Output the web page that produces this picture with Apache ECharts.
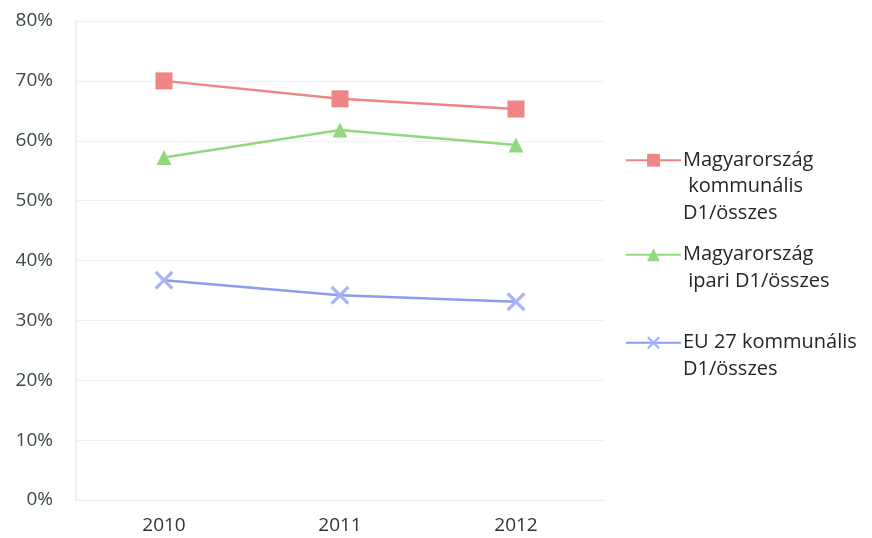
<!DOCTYPE html>
<html><head><meta charset="utf-8">
<script src="https://cdn.jsdelivr.net/npm/echarts@6/dist/echarts.min.js"></script>
<style>html,body{margin:0;padding:0;background:#fff}#c{width:872px;height:538px}</style>
</head><body><div id="c"></div>
<script>
const categories = ['2010', '2011', '2012'];
const huKommunalis = [70.0, 67.0, 65.3];
const huIpari = [57.2, 61.8, 59.3];
const eu27Kommunalis = [36.7, 34.2, 33.1];
const yTicks = [0, 10, 20, 30, 40, 50, 60, 70, 80];
const names = ['Magyarország kommunális D1/összes', 'Magyarország ipari D1/összes', 'EU 27 kommunális D1/összes'];
const legendLabels = {
  [names[0]]: '\n\nMagyarország\n kommunális\nD1/összes',
  [names[1]]: '\nMagyarország\n ipari D1/összes',
  [names[2]]: '\nEU 27 kommunális\nD1/összes'
};
const colors = ['#f08585', '#92d87f', '#8c9cee'];
const crossPath = 'path://M0,1.2 L1.2,0 L10,8.8 L8.8,10 Z M8.8,0 L10,1.2 L1.2,10 L0,8.8 Z';

const chart = echarts.init(document.getElementById('c'));
const font = 'Open Sans, Liberation Sans, sans-serif';
function legendFor(i, top) {
  return {
    data: [names[i]], left: 625, top: top, padding: 0,
    itemWidth: 55, itemHeight: 16, itemGap: 0,
    formatter: n => legendLabels[n],
    textStyle: { fontFamily: font, fontSize: 20, color: '#262626', lineHeight: 26.5, padding: [0, 0, 0, -3] }
  };
}
chart.setOption({
  animation: false,
  color: colors,
  grid: { left: 76, right: 268, top: 21, bottom: 38 },
  legend: [legendFor(0, 94), legendFor(1, 215), legendFor(2, 303)],
  xAxis: {
    type: 'category', data: categories, boundaryGap: true,
    axisLine: { show: true, lineStyle: { color: '#ececec', width: 1 } },
    axisTick: { show: false },
    axisLabel: { fontFamily: font, fontSize: 19, color: '#333', margin: 16 }
  },
  yAxis: {
    type: 'value', min: 0, max: 80, interval: 10,
    axisLine: { show: true, lineStyle: { color: '#f0f0f0', width: 2 } },
    axisTick: { show: false },
    splitLine: { lineStyle: { color: '#efefef', width: 1 } },
    axisLabel: { fontFamily: font, fontSize: 19, color: '#3b4a44', margin: 23, formatter: v => v + '%' }
  },
  series: [
    { name: names[0], type: 'line', data: huKommunalis, symbol: 'rect', symbolSize: 17,
      lineStyle: { width: 2.5, color: colors[0] }, itemStyle: { color: colors[0] } },
    { name: names[1], type: 'line', data: huIpari, symbol: 'triangle', symbolSize: 15,
      lineStyle: { width: 2.5, color: colors[1] }, itemStyle: { color: colors[1] } },
    { name: names[2], type: 'line', data: eu27Kommunalis, symbol: crossPath, symbolSize: 19,
      lineStyle: { width: 2.5, color: colors[2] }, itemStyle: { color: '#a9b4f2' } }
  ]
});
</script></body></html>
